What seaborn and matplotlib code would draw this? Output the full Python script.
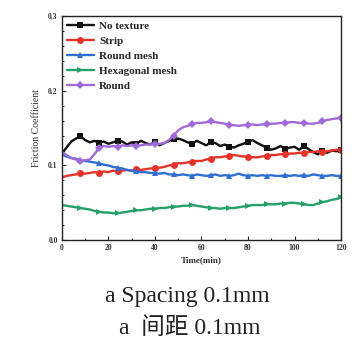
import numpy as np
import pandas as pd
import matplotlib
matplotlib.use("Agg")
import matplotlib.pyplot as plt
from matplotlib.ticker import MultipleLocator, FormatStrFormatter
import seaborn as sns

# Sampling times (min)
time = np.arange(0, 121, 2)

no_texture = [0.116, 0.124, 0.132, 0.136, 0.139, 0.134, 0.131, 0.133, 0.130, 0.132,
              0.129, 0.131, 0.133, 0.132, 0.128, 0.131, 0.129, 0.133, 0.130, 0.128,
              0.132, 0.127, 0.130, 0.133, 0.135, 0.136, 0.134, 0.131, 0.129, 0.133,
              0.130, 0.127, 0.131, 0.130, 0.126, 0.128, 0.125, 0.124, 0.127, 0.129,
              0.132, 0.134, 0.130, 0.127, 0.124, 0.121, 0.123, 0.126, 0.122, 0.124,
              0.125, 0.121, 0.126, 0.122, 0.118, 0.115, 0.119, 0.117, 0.120, 0.119,
              0.121]
strip = [0.084, 0.086, 0.087, 0.088, 0.090, 0.089, 0.090, 0.091, 0.090, 0.092,
         0.091, 0.093, 0.092, 0.093, 0.094, 0.093, 0.095, 0.094, 0.095, 0.096,
         0.096, 0.097, 0.098, 0.100, 0.101, 0.103, 0.103, 0.104, 0.105, 0.106,
         0.106, 0.108, 0.109, 0.111, 0.111, 0.112, 0.113, 0.114, 0.113, 0.112,
         0.112, 0.111, 0.111, 0.112, 0.113, 0.114, 0.114, 0.115, 0.115, 0.116,
         0.116, 0.117, 0.117, 0.118, 0.118, 0.119, 0.118, 0.119, 0.120, 0.121,
         0.121]
round_mesh = [0.115, 0.112, 0.110, 0.109, 0.107, 0.106, 0.105, 0.104, 0.103, 0.101,
              0.100, 0.098, 0.097, 0.096, 0.094, 0.093, 0.092, 0.091, 0.091, 0.090,
              0.090, 0.089, 0.090, 0.088, 0.088, 0.087, 0.088, 0.087, 0.086, 0.088,
              0.087, 0.086, 0.087, 0.088, 0.086, 0.087, 0.086, 0.087, 0.089, 0.087,
              0.086, 0.087, 0.086, 0.087, 0.086, 0.087, 0.086, 0.086, 0.087, 0.086,
              0.087, 0.086, 0.087, 0.086, 0.088, 0.087, 0.086, 0.086, 0.087, 0.086,
              0.086]
hexagonal_mesh = [0.047, 0.046, 0.045, 0.044, 0.043, 0.042, 0.041, 0.039, 0.038, 0.037,
                  0.037, 0.036, 0.036, 0.037, 0.038, 0.039, 0.040, 0.040, 0.041, 0.042,
                  0.042, 0.043, 0.043, 0.044, 0.045, 0.045, 0.046, 0.046, 0.047, 0.046,
                  0.045, 0.044, 0.043, 0.043, 0.042, 0.043, 0.043, 0.043, 0.044, 0.045,
                  0.046, 0.047, 0.047, 0.047, 0.048, 0.048, 0.048, 0.049, 0.049, 0.050,
                  0.050, 0.049, 0.048, 0.047, 0.047, 0.049, 0.051, 0.052, 0.054, 0.055,
                  0.058]
round_tex = [0.118, 0.114, 0.110, 0.108, 0.106, 0.107, 0.108, 0.115, 0.124, 0.126,
             0.125, 0.126, 0.125, 0.127, 0.126, 0.127, 0.126, 0.127, 0.128, 0.128,
             0.129, 0.129, 0.130, 0.134, 0.140, 0.147, 0.151, 0.153, 0.155, 0.157,
             0.157, 0.158, 0.159, 0.158, 0.157, 0.156, 0.154, 0.154, 0.153, 0.154,
             0.154, 0.155, 0.154, 0.155, 0.155, 0.156, 0.156, 0.157, 0.157, 0.158,
             0.158, 0.157, 0.157, 0.156, 0.156, 0.157, 0.159, 0.161, 0.162, 0.163,
             0.164]

labels = ["No texture", "Strip", "Round mesh", "Hexagonal mesh", "Round"]
series = [no_texture, strip, round_mesh, hexagonal_mesh, round_tex]
colors = ["#111111", "#e5332a", "#2f6fd2", "#25a06a", "#a06ad8"]
markers = ["s", "o", "^", ">", "D"]
msizes = [5, 5, 5, 5, 4.2]

sns.set_style("ticks")
plt.rcParams["font.family"] = ["Liberation Serif", "Noto Sans CJK SC"]

fig = plt.figure(figsize=(3.64, 3.44), dpi=100)
ax = fig.add_axes([0.170, 0.302, 0.767, 0.651])

for vals, lab, col, mk, ms in zip(series, labels, colors, markers, msizes):
    df = pd.DataFrame({"Time": time, "COF": vals})
    sns.lineplot(data=df, x="Time", y="COF", ax=ax, color=col, lw=1.7,
                 marker=mk, markersize=ms, markeredgewidth=0,
                 markevery=(4, 4), label=lab)

ax.set_xlim(0, 120)
ax.set_ylim(0.0, 0.3)
ax.xaxis.set_major_locator(MultipleLocator(20))
ax.xaxis.set_minor_locator(MultipleLocator(10))
ax.yaxis.set_major_locator(MultipleLocator(0.1))
ax.yaxis.set_minor_locator(MultipleLocator(0.02))
ax.yaxis.set_major_formatter(FormatStrFormatter("%.1f"))
ax.tick_params(which="both", direction="in", width=0.8, labelsize=5.5, pad=3,
               labelcolor="#333333")
ax.tick_params(which="major", length=3)
ax.tick_params(which="minor", length=1.5)
for lbl in ax.get_xticklabels() + ax.get_yticklabels():
    lbl.set_fontweight("bold")
for sp in ax.spines.values():
    sp.set_linewidth(1.0)
    sp.set_color("#222222")

ax.set_xlabel("Time(min)", fontsize=6.5, fontweight="bold", labelpad=3,
              color="#333333")
ax.set_ylabel("Friction Coefficient", fontsize=7, labelpad=5, color="#333333")

leg = ax.legend(loc="upper left", frameon=False, handlelength=2.4,
                handletextpad=0.5, labelspacing=0.46, borderaxespad=0.05,
                prop={"weight": "bold", "size": 8})

fig.text(0.514, 0.138, "a Spacing 0.1mm", ha="center", va="center",
         fontsize=17, color="#222222")
fig.text(0.52, 0.046, "a  间距 0.1mm", ha="center", va="center",
         fontsize=17, color="#222222")

fig.savefig("out.png", dpi=100, facecolor="white")
